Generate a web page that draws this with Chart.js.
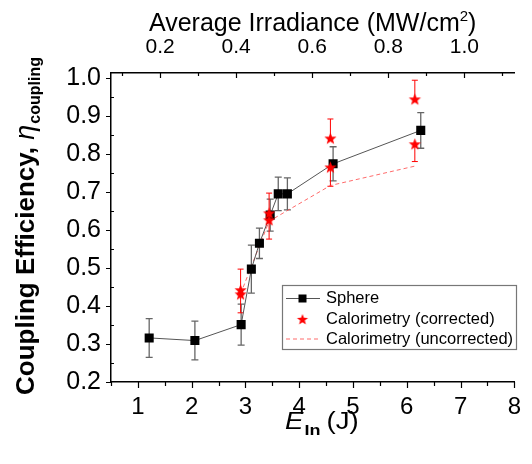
<!DOCTYPE html>
<html>
<head>
<meta charset="utf-8">
<script src="https://cdn.jsdelivr.net/npm/chart.js@4.4.0/dist/chart.umd.min.js"></script>
<style>
  html, body { margin: 0; padding: 0; background: #fff; }
  canvas { display: block; }
</style>
</head>
<body>
<canvas id="myChart" width="532" height="464"></canvas>
<script>
// sphere measurements (input energy in J, coupling efficiency)
const sphereE = [1.21, 2.06, 2.92, 3.11, 3.26, 3.46, 3.61, 3.78, 4.63, 6.26];
const sphereEta = [0.316, 0.309, 0.351, 0.497, 0.565, 0.639, 0.695, 0.695, 0.774, 0.862];
const sphereErr = [0.051, 0.051, 0.054, 0.063, 0.040, 0.042, 0.044, 0.042, 0.045, 0.047];

// calorimetry (corrected) - upper stars carry the + error, lower ones the - error
const calE = [2.91, 2.91, 3.44, 3.44, 4.58, 4.58, 6.15, 6.15];
const calEta = [0.443, 0.432, 0.645, 0.627, 0.842, 0.766, 0.945, 0.827];
const calErrUp = [0.054, 0, 0.052, 0, 0.050, 0, 0.049, 0];
const calErrDown = [0, 0.050, 0, 0.051, 0, 0.051, 0, 0.047];

// calorimetry (uncorrected)
const uncE = [2.91, 3.44, 4.58, 6.15];
const uncEta = [0.432, 0.623, 0.717, 0.768];

// axes
const xTicks = [1, 2, 3, 4, 5, 6, 7, 8];
const yTicks = [0.2, 0.3, 0.4, 0.5, 0.6, 0.7, 0.8, 0.9, 1.0];
const topTicks = [0.2, 0.4, 0.6, 0.8, 1.0];
const irrPerJoule = 0.14145; // MW/cm^2 per J

const FONT = 'Arial, "Liberation Sans", sans-serif';

function makeStar(r, color) {
  const c = document.createElement('canvas');
  const s = Math.ceil(r * 2) + 2;
  c.width = s; c.height = s;
  const g = c.getContext('2d');
  g.fillStyle = color;
  g.beginPath();
  for (let i = 0; i < 10; i++) {
    const a = -Math.PI / 2 + i * Math.PI / 5;
    const rr = i % 2 ? r * 0.42 : r;
    g.lineTo(s / 2 + rr * Math.cos(a), s / 2 + 0.8 + rr * Math.sin(a));
  }
  g.closePath();
  g.fill();
  return c;
}
const starImg = makeStar(6.4, '#ff0000');
const starSmall = makeStar(5.8, '#ff0000');

function errBar(ctx, x, yFrom, yTo, cap) {
  ctx.beginPath();
  ctx.moveTo(x, yFrom);
  ctx.lineTo(x, yTo);
  ctx.moveTo(x - cap, yTo);
  ctx.lineTo(x + cap, yTo);
  ctx.stroke();
}

const errorBars = {
  id: 'errorBars',
  beforeDatasetsDraw(chart) {
    const { ctx, scales: { x, y } } = chart;
    ctx.save();
    ctx.strokeStyle = '#666';
    ctx.lineWidth = 1.3;
    sphereE.forEach((e, i) => {
      const px = x.getPixelForValue(e);
      const py = y.getPixelForValue(sphereEta[i]);
      errBar(ctx, px, py, y.getPixelForValue(sphereEta[i] + sphereErr[i]), 3.5);
      errBar(ctx, px, py, y.getPixelForValue(sphereEta[i] - sphereErr[i]), 3.5);
    });
    ctx.strokeStyle = '#ff0000';
    ctx.lineWidth = 1;
    calE.forEach((e, i) => {
      const px = x.getPixelForValue(e);
      const py = y.getPixelForValue(calEta[i]);
      if (calErrUp[i] > 0) errBar(ctx, px, py, y.getPixelForValue(calEta[i] + calErrUp[i]), 3);
      if (calErrDown[i] > 0) errBar(ctx, px, py, y.getPixelForValue(calEta[i] - calErrDown[i]), 3);
    });
    ctx.restore();
  }
};

function drawRuns(ctx, runs, x, y) {
  let cx = x;
  runs.forEach(r => {
    ctx.font = r.font;
    ctx.fillText(r.text, cx, y + (r.dy || 0));
    cx += ctx.measureText(r.text).width + (r.gap || 0);
  });
}
function runsWidth(ctx, runs) {
  let w = 0;
  runs.forEach(r => { ctx.font = r.font; w += ctx.measureText(r.text).width + (r.gap || 0); });
  return w;
}

const decorations = {
  id: 'decorations',
  afterDraw(chart) {
    const { ctx, chartArea: a, scales: { x, y, x2 } } = chart;
    ctx.save();
    ctx.strokeStyle = '#000';
    ctx.lineWidth = 1.2;
    ctx.beginPath();
    // bottom ticks (outward)
    for (let v = 0.5; v <= 8.001; v += 0.5) {
      const px = Math.round(x.getPixelForValue(v)) + 0.5;
      const len = Number.isInteger(v) ? 6 : 4;
      ctx.moveTo(px, a.bottom); ctx.lineTo(px, a.bottom + len);
    }
    // left ticks: major outward, minor inward
    for (let k = 4; k <= 20; k++) {
      const v = k * 0.05;
      const py = Math.round(y.getPixelForValue(v)) + 0.5;
      if (k % 2 === 0) { ctx.moveTo(a.left - 5, py); ctx.lineTo(a.left, py); }
      else { ctx.moveTo(a.left, py); ctx.lineTo(a.left + 3, py); }
    }
    // top ticks (inward)
    for (let k = 1; k <= 11; k++) {
      const v = k * 0.1;
      const px = Math.round(x2.getPixelForValue(v)) + 0.5;
      const len = k % 2 === 0 ? 5 : 3;
      ctx.moveTo(px, a.top); ctx.lineTo(px, a.top + len);
    }
    ctx.stroke();

    ctx.fillStyle = '#000';
    ctx.textBaseline = 'alphabetic';

    // top title
    const topRuns = [
      { text: 'Average Irradiance (MW/cm', font: '25px ' + FONT },
      { text: '2', font: '15px ' + FONT, dy: -10 },
      { text: ')', font: '25px ' + FONT }
    ];
    const tw = runsWidth(ctx, topRuns);
    drawRuns(ctx, topRuns, (a.left + a.right) / 2 - tw / 2, 31);

    // bottom title (slightly widened like the original lettering)
    const botRuns = [
      { text: 'E', font: 'italic 23px ' + FONT, gap: 1 },
      { text: 'In', font: 'bold 15px ' + FONT, dy: 6, gap: 5 },
      { text: '(J)', font: '23px ' + FONT }
    ];
    ctx.save();
    ctx.translate(285, 429);
    ctx.scale(1.2, 1);
    drawRuns(ctx, botRuns, 0, 0);
    ctx.restore();

    // y title (rotated)
    const yRuns = [
      { text: 'Coupling Efficiency, ', font: 'bold 26px ' + FONT },
      { text: 'η', font: 'italic 27px ' + FONT, gap: 1 },
      { text: 'coupling', font: 'bold 16px ' + FONT, dy: 6 }
    ];
    const yw = runsWidth(ctx, yRuns);
    ctx.save();
    ctx.translate(34, 226);
    ctx.rotate(-Math.PI / 2);
    drawRuns(ctx, yRuns, -yw / 2, 0);
    ctx.restore();

    // legend
    const lx = 282.5, ly = 285.5, lw = 234, lh = 64;
    ctx.fillStyle = '#fff';
    ctx.fillRect(lx, ly, lw, lh);
    ctx.strokeStyle = '#777';
    ctx.lineWidth = 1.2;
    ctx.strokeRect(lx, ly, lw, lh);
    const rows = [298.5, 319, 339];
    const sx = 302.5;
    ctx.strokeStyle = '#555';
    ctx.lineWidth = 1;
    ctx.beginPath();
    ctx.moveTo(286, rows[0]); ctx.lineTo(320, rows[0]);
    ctx.stroke();
    ctx.fillStyle = '#000';
    ctx.fillRect(sx - 4, rows[0] - 4, 8, 8);
    ctx.drawImage(starSmall, sx - starSmall.width / 2, rows[1] - starSmall.height / 2);
    ctx.strokeStyle = 'rgba(255,70,70,0.8)';
    ctx.setLineDash([4, 3]);
    ctx.beginPath();
    ctx.moveTo(286, rows[2]); ctx.lineTo(321, rows[2]);
    ctx.stroke();
    ctx.setLineDash([]);
    ctx.fillStyle = '#000';
    ctx.font = '16.5px ' + FONT;
    ctx.textBaseline = 'middle';
    ctx.fillText('Sphere', 326, rows[0]);
    ctx.fillText('Calorimetry (corrected)', 326, rows[1]);
    ctx.fillText('Calorimetry (uncorrected)', 326, rows[2]);
    ctx.restore();
  }
};

const toXY = (xs, ys) => xs.map((v, i) => ({ x: v, y: ys[i] }));

const ctx = document.getElementById('myChart').getContext('2d');
const chart = new Chart(ctx, {
  type: 'scatter',
  data: {
    datasets: [{
      label: 'Calorimetry (corrected)',
      data: toXY(calE, calEta),
      pointStyle: starImg,
      showLine: false
    }, {
      label: 'Sphere',
      data: toXY(sphereE, sphereEta),
      showLine: true,
      borderColor: '#555',
      borderWidth: 1,
      pointStyle: 'rect',
      pointRadius: 6.4,
      pointBackgroundColor: '#000',
      pointBorderColor: '#000',
      pointBorderWidth: 0
    }, {
      label: 'Calorimetry (uncorrected)',
      data: toXY(uncE, uncEta),
      showLine: true,
      borderColor: 'rgba(255,70,70,0.8)',
      borderWidth: 1,
      borderDash: [4, 3],
      pointRadius: 0
    }]
  },
  options: {
    responsive: false,
    animation: false,
    devicePixelRatio: 1,
    layout: { padding: { right: 15, left: 0, top: 0, bottom: 0 } },
    plugins: { legend: { display: false }, tooltip: { enabled: false } },
    scales: {
      x: {
        type: 'linear',
        position: 'bottom',
        min: 0.5,
        max: 8,
        afterBuildTicks: s => { s.ticks = xTicks.map(v => ({ value: v })); },
        afterFit: s => { s.height = 82; },
        ticks: { color: '#000', font: { family: FONT, size: 24 }, padding: 11, maxRotation: 0, callback: v => String(v) },
        grid: { display: false, drawTicks: false },
        border: { display: true, color: '#000', width: 1.5 }
      },
      x2: {
        type: 'linear',
        position: 'top',
        min: 0.5 * irrPerJoule,
        max: 8 * irrPerJoule,
        afterBuildTicks: s => { s.ticks = topTicks.map(v => ({ value: v })); },
        afterFit: s => { s.height = 73; },
        ticks: { color: '#000', font: { family: FONT, size: 21 }, padding: 13, maxRotation: 0, callback: v => v.toFixed(1) },
        grid: { display: false, drawTicks: false },
        border: { display: true, color: '#000', width: 1.5 }
      },
      y: {
        type: 'linear',
        min: 0.2,
        max: 1.013,
        afterBuildTicks: s => { s.ticks = yTicks.map(v => ({ value: v })); },
        afterFit: s => { s.width = 111; },
        ticks: { color: '#000', font: { family: FONT, size: 25 }, padding: 10, callback: v => v.toFixed(1) },
        grid: { display: false, drawTicks: false },
        border: { display: true, color: '#000', width: 1.5 }
      }
    }
  },
  plugins: [errorBars, decorations]
});
</script>
</body>
</html>
